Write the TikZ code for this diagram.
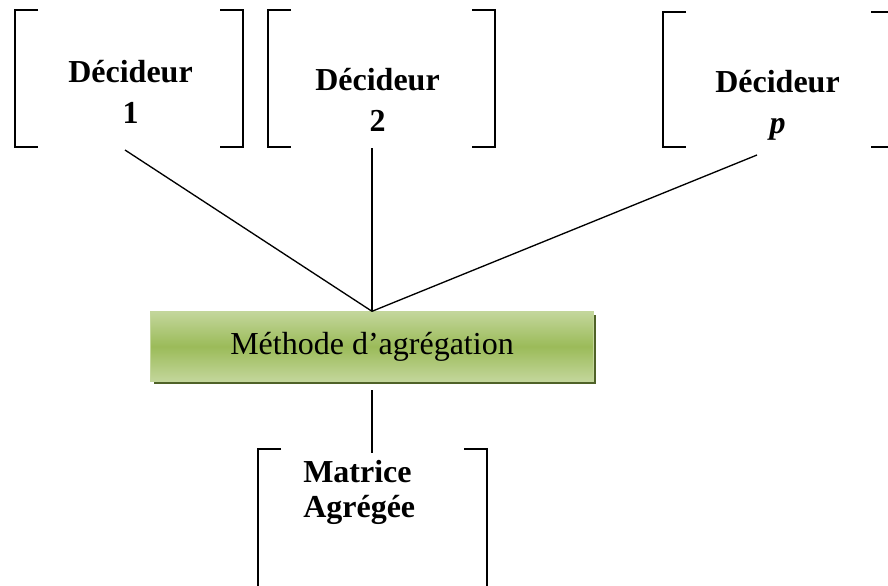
\documentclass[tikz,border=0pt]{standalone}
\usepackage{fontspec}
\setmainfont{Liberation Serif}
\usetikzlibrary{shadows}

\definecolor{vertclair}{HTML}{C3D69B}
\definecolor{vertmoyen}{HTML}{9BBB59}
\definecolor{vertombre}{HTML}{4F6228}

% crochets d'un cadre : gauche, droite, haut, bas
\newcommand{\crochets}[4]{%
  \draw[crochet] (#1+23,#3) -- (#1,#3) -- (#1,#4) -- (#1+23,#4);
  \draw[crochet] (#2-23,#3) -- (#2,#3) -- (#2,#4) -- (#2-23,#4);}

\begin{document}
\begin{tikzpicture}[x=0.75pt, y=-0.75pt,
    crochet/.style={line width=1.3pt},
    lien/.style={line width=1pt},
    decideur/.style={inner sep=0pt, align=center, anchor=north,
      font=\fontsize{24}{31}\selectfont\bfseries},
    methode/.style={draw=vertclair, line width=0.8pt, inner sep=0pt,
      top color=vertclair, bottom color=vertclair, middle color=vertmoyen,
      minimum width=332pt, minimum height=52pt,
      font=\fontsize{24}{29}\selectfont,
      drop shadow={fill=vertombre, opacity=1, shadow xshift=2.2pt, shadow yshift=-2.2pt}}]
    \useasboundingbox (0,0) rectangle (888,585); %taille de l'image
    \clip (0,0) rectangle (888,585);
    % les trois decideurs
    \crochets{15}{243}{10}{147}
    \crochets{268}{495}{10}{147}
    \crochets{663}{894}{12}{147}
    \node[decideur] (dec1) at (130.5,60) {Décideur\\1};
    \node[decideur] (dec2) at (377.5,68) {Décideur\\2};
    \node[decideur] (decp) at (777.5,70) {Décideur\\\textit{p}};
    \coordinate (pied1) at (125,150);
    \coordinate (pied2) at (372,148);
    \coordinate (piedp) at (757,155);
    % agregation
    \node[methode] (agr) at (372,346.5) {Méthode d’agrégation};
    \draw[lien] (pied1) -- (agr.north);
    \draw[lien] (pied2) -- (agr.north);
    \draw[lien] (piedp) -- (agr.north);
    % matrice agregee
    \crochets{258}{487}{449}{600}
    \node[decideur, align=left, anchor=north west,
      font=\fontsize{24}{26.5}\selectfont\bfseries] (mat) at (303,460) {Matrice\\Agrégée};
    \coordinate (haut) at (372,390);
    \coordinate (bas) at (372,453);
    \draw[lien] (haut) -- (bas);
\end{tikzpicture}
\end{document}
